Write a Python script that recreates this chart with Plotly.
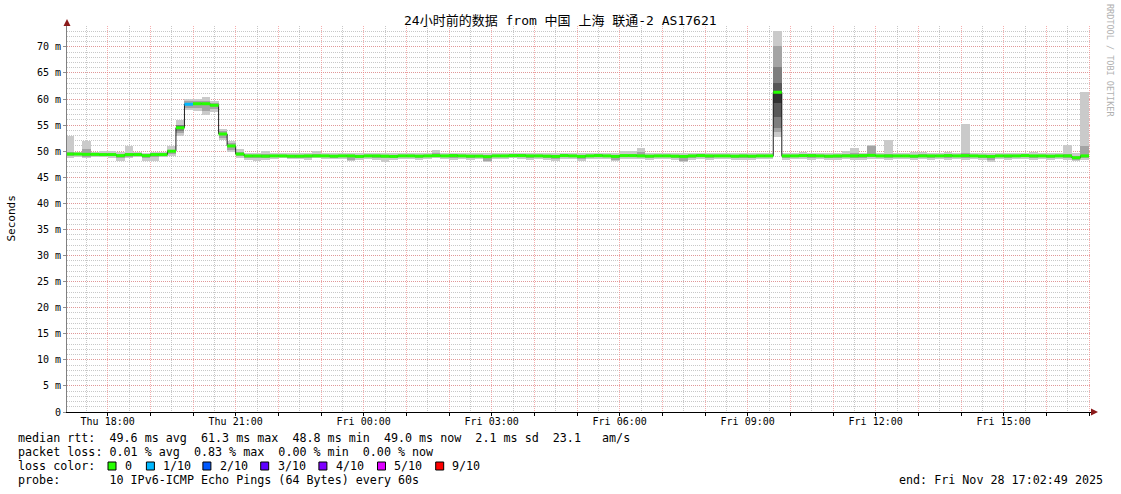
import pandas as pd
import plotly.graph_objects as go

# ---------------- data ----------------
bin_start = pd.date_range("2025-11-27 17:00:00", periods=120, freq="12min")

median_ms = [
    49.45, 49.45, 49.4, 49.4, 49.35, 49.35, 49.15, 49.35, 49.35, 49.15,
    49.35, 49.35, 50.0, 54.5, 59.0, 59.1, 59.1, 58.8, 53.3, 51.0,
    49.45, 49.1, 49.1, 49.05, 49.1, 49.1, 49.05, 49.05, 49.1, 49.1,
    49.1, 49.05, 49.1, 49.1, 49.0, 49.1, 49.1, 49.05, 49.0, 49.1,
    49.1, 49.05, 49.1, 49.15, 49.1, 49.15, 49.1, 49.05, 49.05, 48.95,
    49.1, 49.1, 49.15, 49.15, 49.1, 49.1, 49.05, 49.0, 49.15, 49.1,
    49.0, 49.1, 49.15, 49.1, 49.0, 49.15, 49.15, 49.1, 49.05, 49.1,
    49.1, 49.05, 49.0, 49.1, 49.15, 49.1, 49.1, 49.1, 49.05, 49.1,
    49.05, 49.1, 49.1, 61.3, 49.1, 49.1, 49.15, 49.15, 49.1, 49.05,
    49.1, 49.1, 49.1, 49.15, 49.2, 49.1, 49.1, 49.1, 49.1, 49.05,
    49.1, 49.1, 49.1, 49.15, 49.1, 49.15, 49.1, 49.05, 49.0, 49.1,
    49.1, 49.1, 49.15, 49.1, 49.1, 49.05, 49.1, 49.1, 48.75, 49.1,
]

# smoke: outermost pings (min / max)
ping_min = [
    48.7, 48.9, 48.6, 48.9, 48.8, 48.7, 48.2, 48.6, 48.8, 48.2,
    48.2, 48.9, 49.0, 52.9, 57.9, 57.7, 57.0, 57.5, 52.1, 49.8,
    48.7, 48.4, 48.2, 48.4, 48.5, 48.6, 48.5, 48.5, 48.4, 48.6,
    48.5, 48.5, 48.5, 48.1, 48.3, 48.5, 48.4, 47.9, 48.3, 48.5,
    48.5, 48.4, 48.5, 48.6, 48.5, 48.4, 48.5, 48.4, 48.5, 48.0,
    48.5, 48.5, 48.6, 48.5, 48.4, 48.5, 48.4, 48.2, 48.5, 48.5,
    48.2, 48.5, 48.5, 48.5, 48.1, 48.5, 48.5, 48.5, 48.4, 48.5,
    48.5, 48.4, 48.0, 48.4, 48.5, 48.4, 48.5, 48.5, 48.4, 48.4,
    48.4, 48.5, 48.5, 52.8, 48.4, 48.5, 48.5, 48.4, 48.5, 48.4,
    48.4, 48.5, 48.4, 48.4, 48.5, 48.5, 48.3, 48.5, 48.5, 48.4,
    48.5, 48.4, 48.5, 48.3, 48.5, 48.4, 48.5, 48.4, 47.9, 48.5,
    48.4, 48.5, 48.5, 48.4, 48.5, 48.3, 48.5, 48.4, 48.2, 48.4,
]
ping_max = [
    53.0, 49.8, 51.9, 49.8, 50.1, 50.1, 49.8, 51.0, 49.8, 49.7,
    49.8, 49.8, 50.9, 56.0, 60.0, 60.0, 60.4, 59.7, 54.3, 52.0,
    50.5, 49.6, 49.7, 50.1, 49.6, 49.6, 49.7, 49.7, 49.6, 50.0,
    49.6, 49.6, 49.6, 49.7, 49.6, 49.6, 49.7, 49.6, 49.6, 49.6,
    49.7, 49.7, 49.6, 50.3, 49.6, 49.6, 49.7, 49.7, 49.6, 49.6,
    49.6, 49.6, 49.7, 49.6, 49.7, 49.6, 49.7, 49.6, 49.6, 49.6,
    49.6, 49.6, 49.6, 49.7, 49.6, 50.1, 50.0, 50.7, 49.6, 49.7,
    49.6, 49.6, 49.6, 49.6, 49.7, 49.6, 49.6, 49.7, 49.6, 49.6,
    49.6, 49.6, 49.6, 73.0, 49.6, 49.6, 49.8, 49.7, 49.6, 49.6,
    49.7, 50.0, 50.7, 49.7, 51.2, 49.7, 52.2, 49.6, 49.6, 49.8,
    49.9, 49.6, 49.7, 49.8, 49.6, 55.2, 49.7, 49.6, 49.6, 49.7,
    49.7, 49.6, 49.7, 49.8, 49.6, 49.6, 49.6, 51.1, 49.6, 61.4,
]
# second pings from each end
ping_lo2 = [
    49.1, 49.2, 48.9, 49.1, 49.0, 49.0, 48.7, 48.9, 49.0, 48.6,
    48.8, 49.1, 49.5, 53.5, 58.3, 58.2, 57.8, 58.0, 52.6, 50.2,
    49.0, 48.7, 48.6, 48.7, 48.8, 48.8, 48.7, 48.7, 48.7, 48.8,
    48.8, 48.7, 48.8, 48.4, 48.6, 48.8, 48.7, 48.6, 48.6, 48.8,
    48.8, 48.7, 48.8, 48.8, 48.8, 48.7, 48.8, 48.7, 48.8, 48.2,
    48.8, 48.8, 48.8, 48.8, 48.7, 48.8, 48.7, 48.5, 48.8, 48.8,
    48.5, 48.8, 48.8, 48.8, 48.3, 48.8, 48.8, 48.8, 48.7, 48.8,
    48.8, 48.7, 48.2, 48.7, 48.8, 48.7, 48.8, 48.8, 48.7, 48.7,
    48.7, 48.8, 48.8, 53.6, 48.7, 48.8, 48.8, 48.7, 48.8, 48.7,
    48.7, 48.8, 48.7, 48.7, 48.8, 48.8, 48.6, 48.8, 48.8, 48.7,
    48.8, 48.7, 48.8, 48.6, 48.8, 48.7, 48.8, 48.7, 48.4, 48.8,
    48.7, 48.8, 48.8, 48.7, 48.8, 48.6, 48.8, 48.7, 48.4, 48.6,
]
ping_hi2 = [
    49.8, 49.6, 50.4, 49.6, 49.6, 49.6, 49.4, 49.6, 49.6, 49.4,
    49.6, 49.6, 50.3, 55.0, 59.6, 59.7, 59.6, 59.3, 53.9, 51.5,
    49.9, 49.3, 49.3, 49.4, 49.3, 49.3, 49.3, 49.3, 49.3, 49.4,
    49.3, 49.3, 49.3, 49.3, 49.3, 49.3, 49.3, 49.3, 49.2, 49.3,
    49.3, 49.3, 49.3, 49.6, 49.3, 49.4, 49.3, 49.3, 49.3, 49.2,
    49.3, 49.3, 49.4, 49.4, 49.3, 49.3, 49.3, 49.2, 49.4, 49.3,
    49.2, 49.3, 49.4, 49.3, 49.2, 49.4, 49.4, 49.8, 49.3, 49.3,
    49.3, 49.3, 49.2, 49.3, 49.4, 49.3, 49.3, 49.3, 49.3, 49.3,
    49.3, 49.3, 49.3, 70.2, 49.3, 49.3, 49.4, 49.4, 49.3, 49.3,
    49.3, 49.4, 49.6, 49.4, 50.9, 49.3, 49.4, 49.3, 49.3, 49.3,
    49.4, 49.3, 49.3, 49.4, 49.3, 49.6, 49.3, 49.3, 49.2, 49.3,
    49.3, 49.3, 49.4, 49.3, 49.3, 49.3, 49.3, 49.5, 49.0, 50.9,
]
# inner pings (3rd..8th) where they are visibly spread
inner_bins = [13, 83]
inner_p3 = [53.9, 54.4]
inner_p4 = [54.2, 56.6]
inner_p5 = [54.4, 59.2]
inner_p6 = [54.7, 61.6]
inner_p7 = [54.8, 63.0]
inner_p8 = [55.0, 66.2]

loss_pct = [0.0] * 120
loss_pct[14] = 0.83

loss_labels = ["0", "1/10", "2/10", "3/10", "4/10", "5/10", "9/10"]
loss_colors = ["#26ff00", "#00b8ff", "#0059ff", "#5e00ff", "#7e00ff", "#dd00ff", "#ff0000"]

hour_ticks = pd.date_range("2025-11-27 18:00:00", "2025-11-28 17:00:00", freq="1h")
half_ticks = pd.date_range("2025-11-27 17:30:00", "2025-11-28 16:30:00", freq="1h")
tick_labels = [t.strftime("%a %H:%M") if t.hour % 3 == 0 else "" for t in hour_ticks]
y_ticks = list(range(0, 75, 5))
y_tick_labels = ["0"] + [f"{v} m" for v in y_ticks[1:]]

title = "24小时前的数据 from 中国 上海 联通-2 AS17621"
stats_lines = [
    "median rtt:  49.6 ms avg  61.3 ms max  48.8 ms min  49.0 ms now  2.1 ms sd  23.1   am/s",
    "packet loss: 0.01 % avg  0.83 % max  0.00 % min  0.00 % now",
]
probe_line = "probe:       10 IPv6-ICMP Echo Pings (64 Bytes) every 60s"
end_line = "end: Fri Nov 28 17:02:49 2025"

# ---------------- figure ----------------
STEP = pd.Timedelta(minutes=12)
STEP_MS = 12 * 60 * 1000
centers = bin_start + STEP / 2
x_start = pd.Timestamp("2025-11-27 17:02:49")
x_end = pd.Timestamp("2025-11-28 17:02:49")

SMOKE = ["#cacaca", "#a4a4a4", "#7e7e7e", "#585858", "#323232"]
FONT = "DejaVu Sans Mono, Noto Sans CJK SC, monospace"

fig = go.Figure()

def smoke_bar(xs, lo, hi, color):
    fig.add_trace(go.Bar(
        x=xs, y=[h - l for l, h in zip(lo, hi)], base=lo, width=STEP_MS,
        marker=dict(color=color, line=dict(width=0)), hoverinfo="skip"))

smoke_bar(centers, ping_min, ping_max, SMOKE[0])
smoke_bar(centers, ping_lo2, ping_hi2, SMOKE[1])
inner_x = [centers[i] for i in inner_bins]
smoke_bar(inner_x, inner_p3, inner_p8, SMOKE[2])
smoke_bar(inner_x, inner_p4, inner_p7, SMOKE[3])
smoke_bar(inner_x, inner_p5, inner_p6, SMOKE[4])

# median black step line
line_x = list(bin_start) + [bin_start[-1] + STEP]
line_y = median_ms + [median_ms[-1]]
fig.add_trace(go.Scatter(x=line_x, y=line_y, mode="lines", line_shape="hv",
                         line=dict(color="#202020", width=1), hoverinfo="skip"))

# loss-coloured median band (one horizontal segment per bin)
def loss_index(p):
    if p <= 0:
        return 0
    frac = p / 100 * 10
    if frac <= 1:
        return 1
    return min(int(round(frac)), 6)

for ci, col in enumerate(loss_colors):
    xs, ys = [], []
    for s, m, p in zip(bin_start, median_ms, loss_pct):
        if loss_index(p) == ci:
            xs += [s, s + STEP, None]
            ys += [m, m, None]
    if xs:
        fig.add_trace(go.Scatter(x=xs, y=ys, mode="lines", connectgaps=False,
                                 line=dict(color=col, width=3), hoverinfo="skip"))

L, T, W, H = 67, 26, 1024, 386
FIG_W, FIG_H = 1121, 494
def px(x):
    return (x - L) / W
def py(y):
    return (T + H - y) / H

RED_GRID = "rgba(240,120,120,0.6)"
GRAY_GRID = "rgba(170,170,170,0.65)"

fig.update_layout(
    width=FIG_W, height=FIG_H,
    margin=dict(l=L, r=FIG_W - L - W, t=T, b=FIG_H - T - H, pad=0, autoexpand=False),
    paper_bgcolor="white", plot_bgcolor="white",
    barmode="overlay", bargap=0, showlegend=False,
    font=dict(family=FONT, size=10, color="#000"),
    xaxis=dict(
        type="date", range=[x_start, x_end],
        tickmode="array", tickvals=list(hour_ticks), ticktext=tick_labels,
        showgrid=True, gridcolor=RED_GRID, griddash="1px,1px", gridwidth=1,
        ticks="outside", ticklen=3, tickcolor="#000", tickfont=dict(size=10, family=FONT),
        ticklabelstandoff=-3,
        showline=True, linecolor="#000", linewidth=1, zeroline=False,
        minor=dict(tickmode="array", tickvals=list(half_ticks), showgrid=True,
                   gridcolor=GRAY_GRID, griddash="1px,1px", ticks=""),
    ),
    yaxis=dict(
        range=[0, 74], tickmode="array", tickvals=y_ticks, ticktext=y_tick_labels,
        showgrid=True, gridcolor=RED_GRID, griddash="1px,1px", gridwidth=1,
        ticks="outside", ticklen=3, tickcolor="#909090", tickfont=dict(size=10, family=FONT),
        showline=True, linecolor="#808080", linewidth=1, zeroline=False,
        minor=dict(tickmode="array", tickvals=list(range(0, 75)), showgrid=True,
                   gridcolor=GRAY_GRID, griddash="1px,1px", ticks=""),
    ),
)

TXT = 11.7
ann = []
ann.append(dict(text=title, x=px(560), y=py(21), xref="paper", yref="paper",
                showarrow=False, xanchor="center", yanchor="middle",
                font=dict(size=13, family=FONT, color="#000")))
ann.append(dict(text="Seconds", x=px(10.5), y=py(219), xref="paper", yref="paper",
                showarrow=False, textangle=-90, xanchor="center", yanchor="middle",
                font=dict(size=11, family=FONT, color="#000")))
ann.append(dict(text="RRDTOOL / TOBI OETIKER", x=px(1110), y=py(60), xref="paper", yref="paper",
                showarrow=False, textangle=90, xanchor="center", yanchor="middle",
                font=dict(size=8.5, family=FONT, color="#b0b0b0")))
for i, line in enumerate(stats_lines):
    ann.append(dict(text=line.replace(" ", "&nbsp;"), x=px(16), y=py(438 + 14 * i),
                    xref="paper", yref="paper", showarrow=False, xanchor="left",
                    yanchor="middle", font=dict(size=TXT, family=FONT, color="#000")))
ann.append(dict(text="loss&nbsp;color:", x=px(16), y=py(466), xref="paper", yref="paper",
                showarrow=False, xanchor="left", yanchor="middle",
                font=dict(size=TXT, family=FONT, color="#000")))
ann.append(dict(text=probe_line.replace(" ", "&nbsp;"), x=px(16), y=py(480), xref="paper",
                yref="paper", showarrow=False, xanchor="left", yanchor="middle",
                font=dict(size=TXT, family=FONT, color="#000")))
ann.append(dict(text=end_line.replace(" ", "&nbsp;"), x=px(1105), y=py(480), xref="paper",
                yref="paper", showarrow=False, xanchor="right", yanchor="middle",
                font=dict(size=TXT, family=FONT, color="#000")))

box_x = [108, 146.4, 202.9, 260.7, 318.9, 377.5, 435.7]
text_x = [123.2, 160.7, 217.9, 276, 334, 392, 450]
shapes = []
for bx, tx, lab, col in zip(box_x, text_x, loss_labels, loss_colors):
    shapes.append(dict(type="rect", xref="paper", yref="paper",
                       x0=px(bx), x1=px(bx + 8), y0=py(470), y1=py(462),
                       fillcolor=col, line=dict(color="#000", width=1)))
    ann.append(dict(text=lab, x=px(tx), y=py(466), xref="paper", yref="paper",
                    showarrow=False, xanchor="left", yanchor="middle",
                    font=dict(size=TXT, family=FONT, color="#000")))

ARROW = "#8b1a1a"
shapes.append(dict(type="path", xref="paper", yref="paper",
                   path=f"M {px(67)} {py(19)} L {px(63.5)} {py(26)} L {px(70.5)} {py(26)} Z",
                   fillcolor=ARROW, line=dict(color=ARROW, width=0)))
shapes.append(dict(type="path", xref="paper", yref="paper",
                   path=f"M {px(1098)} {py(412)} L {px(1091)} {py(408.5)} L {px(1091)} {py(415.5)} Z",
                   fillcolor=ARROW, line=dict(color=ARROW, width=0)))

fig.update_layout(annotations=ann, shapes=shapes)
# remove the browser's default 8px body margin so the figure fills the window
fig.write_html("out.html", config={"displayModeBar": False},
               post_script="document.body.style.margin='0';document.body.style.overflow='hidden';")
